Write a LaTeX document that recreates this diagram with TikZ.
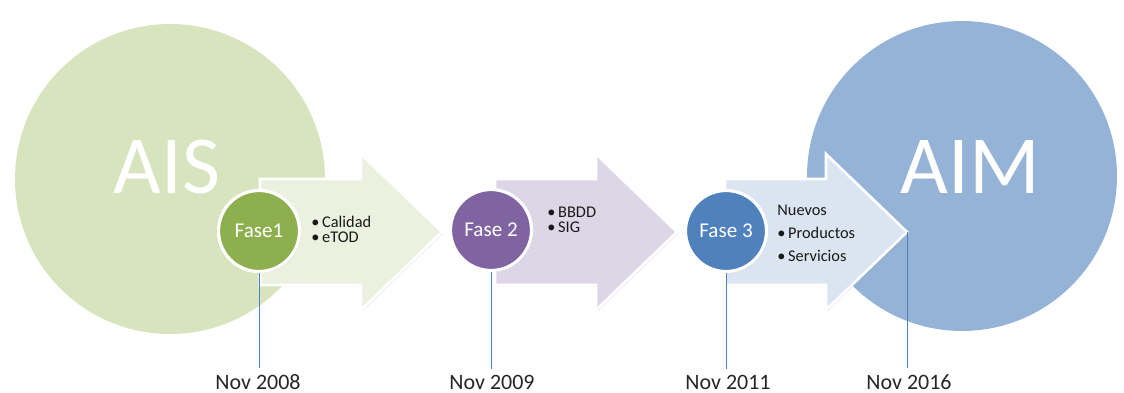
\documentclass[tikz,border=0pt]{standalone}
\usepackage{fontspec}
\setmainfont{Carlito}
\usetikzlibrary{shadows}
\definecolor{aisgreen}{HTML}{D7E4BD}
\definecolor{aimblue}{HTML}{95B3D7}
\definecolor{fasegreen}{HTML}{8DAF4E}
\definecolor{faselilac}{HTML}{8064A2}
\definecolor{faseblue}{HTML}{4F81BD}
\definecolor{arrowgreen}{HTML}{EBF1DE}
\definecolor{arrowlilac}{HTML}{DCD6E6}
\definecolor{arrowblue}{HTML}{DBE5F1}
\tikzset{
  bigcircle/.style={circle, minimum size=6.2cm, inner sep=0pt},
  bigtext/.style={text=white, inner sep=0pt, font=\fontsize{47}{47}\selectfont},
  fasecircle/.style={circle, draw=white, line width=1.8pt, minimum size=1.62cm, inner sep=0pt,
    text=white, font=\fontsize{12}{13}\selectfont,
    drop shadow={opacity=0.25, shadow xshift=0.8pt, shadow yshift=-0.8pt}},
  phasearrow/.style={draw=white, line width=1.5pt, line join=miter,
    drop shadow={opacity=0.2, shadow xshift=0.8pt, shadow yshift=-0.8pt}},
  itemtext/.style={anchor=west, align=left, inner sep=0pt, text=black!90,
    font=\fontsize{9.3}{8.6}\selectfont},
  datetext/.style={anchor=base, text=black!85, font=\fontsize{12.5}{14}\selectfont},
  dateline/.style={draw=faseblue, line width=0.5pt}
}
\begin{document}
\begin{tikzpicture}[x=0.02cm, y=-0.02cm]
  \useasboundingbox (0,0) rectangle (1124,392);
  % big circles
  \node[bigcircle, fill=aisgreen] (ais) at (170,179) {};
  \node[bigcircle, fill=aimblue] (aim) at (962,176) {};
  \node[bigtext] (aistxt) at (167,167) {AIS};
  \node[bigtext] (aimtxt) at (970,167) {AIM};
  % dates
  \node[datetext] (d1) at (258,389) {Nov 2008};
  \node[datetext] (d2) at (492,389) {Nov 2009};
  \node[datetext] (d3) at (728,389) {Nov 2011};
  \node[datetext] (d4) at (909,389) {Nov 2016};
  % phase arrows
  \foreach \x/\col [count=\i] in {260/arrowgreen, 495/arrowlilac, 725/arrowblue}
    \filldraw[phasearrow, fill=\col] (\x,179) -- ++(101,0) -- ++(0,-25)
      -- ++(81,78) coordinate (tip\i) -- ++(-81,78) -- ++(0,-25) -- ++(-101,0) -- cycle;
  % phase circles
  \node[fasecircle, fill=fasegreen] (fase1) at (259,231) {Fase1};
  \node[fasecircle, fill=faselilac] (fase2) at (491,230) {Fase 2};
  \node[fasecircle, fill=faseblue] (fase3) at (726,231) {Fase 3};
  % time lines
  \draw[dateline] (fase1.south) -- (fase1 |- d1.north);
  \draw[dateline] (fase2.south) -- (fase2 |- d2.north);
  \draw[dateline] (fase3.south) -- (fase3 |- d3.north);
  \draw[dateline] (tip3) -- (tip3 |- d4.north);
  % items
  \node[itemtext] (items1) at (311,229.5) {•\,Calidad\\•\,eTOD};
  \node[itemtext] (items2) at (547,220) {•\,BBDD\\•\,SIG};
  \node[itemtext, font=\fontsize{9.3}{13}\selectfont] (items3) at (777,233) {Nuevos\\•\,Productos\\•\,Servicios};
\end{tikzpicture}
\end{document}
